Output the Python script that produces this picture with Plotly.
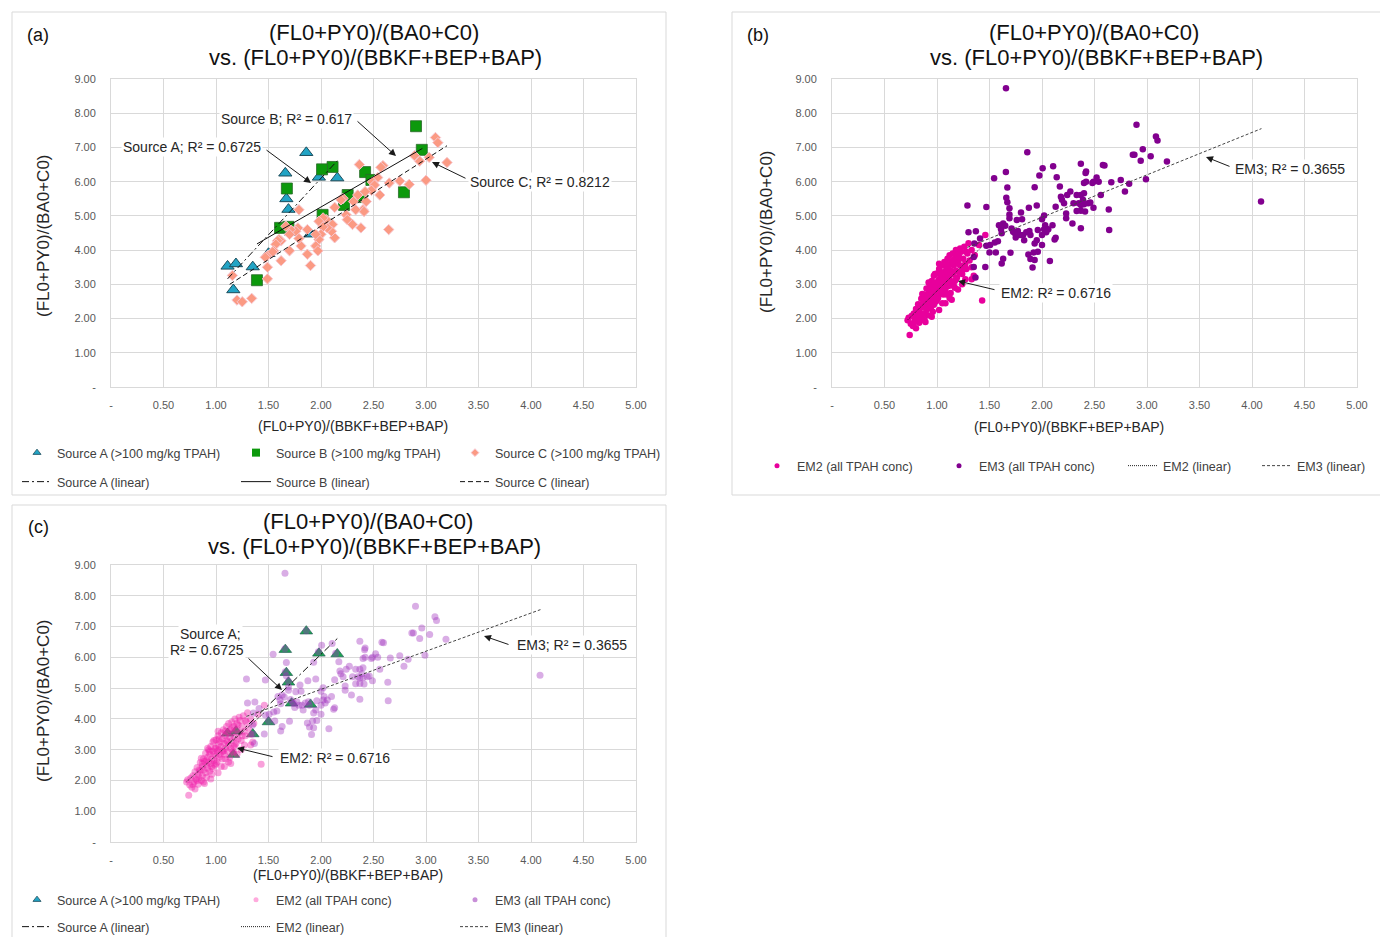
import plotly.graph_objects as go

W, H = 1380, 937
FONT = "Liberation Sans, Arial, Helvetica, sans-serif"

# ---------------- tick labels ----------------
x_tick_vals = [0, 0.5, 1.0, 1.5, 2.0, 2.5, 3.0, 3.5, 4.0, 4.5, 5.0]
x_tick_text = ["-", "0.50", "1.00", "1.50", "2.00", "2.50", "3.00", "3.50", "4.00", "4.50", "5.00"]
y_tick_vals = [0, 1, 2, 3, 4, 5, 6, 7, 8, 9]
y_tick_text = ["-", "1.00", "2.00", "3.00", "4.00", "5.00", "6.00", "7.00", "8.00", "9.00"]

# ---------------- data ----------------
src_a_x = [1.11, 1.19, 1.35, 1.165, 1.86, 1.66, 1.98, 2.155, 1.67, 1.69, 1.72, 1.90, 1.50]
src_a_y = [3.53, 3.60, 3.51, 2.84, 6.85, 6.25, 6.13, 6.11, 5.50, 5.19, 4.51, 4.47, 3.90]

src_b_x = [2.905, 2.96, 2.11, 2.01, 2.42, 2.48, 1.675, 2.254, 2.22, 2.39, 2.79, 2.015, 1.61, 1.69, 2.05, 1.39]
src_b_y = [7.62, 6.93, 6.43, 6.36, 6.28, 6.05, 5.80, 5.61, 5.32, 5.55, 5.69, 5.03, 4.65, 4.68, 4.75, 3.12]

src_c_x = [3.09, 3.113, 3.20, 3.00, 2.94, 2.89, 3.03, 2.84, 2.75, 2.65,
           2.645, 2.59, 2.57, 2.56, 2.54, 2.49, 2.51, 2.48, 2.42, 2.365,
           2.35, 2.43, 2.40, 2.41, 2.33, 2.31, 2.24, 2.25, 2.30, 2.38,
           2.21, 2.19, 2.13, 2.11, 2.13, 2.10, 2.06, 2.05, 2.02, 1.98,
           2.02, 2.00, 1.98, 1.95, 1.95, 1.97, 1.90, 1.87, 1.87, 1.81,
           1.79, 1.78, 1.76, 1.71, 1.70, 1.70, 1.665, 1.62, 1.60, 1.585,
           1.57, 1.55, 1.49, 1.47, 1.49, 1.62, 1.54, 1.49, 1.156, 1.20,
           1.25, 1.34, 1.79]
src_c_y = [7.29, 7.14, 6.56, 6.04, 6.60, 6.76, 6.71, 5.92, 6.02, 5.96,
           4.60, 6.47, 6.42, 5.61, 6.12, 5.99, 5.90, 5.75, 5.71, 6.50,
           5.61, 5.42, 5.18, 5.13, 5.18, 5.42, 5.03, 4.89, 4.75, 4.65,
           5.51, 5.47, 5.25, 4.75, 4.36, 4.55, 4.65, 4.89, 4.94, 4.84,
           4.68, 4.46, 4.31, 4.46, 4.12, 3.98, 3.55, 4.60, 3.88, 4.12,
           5.18, 4.65, 4.55, 4.60, 4.46, 3.98, 4.70, 4.27, 4.31, 4.27,
           4.17, 3.98, 3.84, 3.79, 3.50, 3.69, 3.95, 3.16, 3.26, 2.54,
           2.49, 2.59, 4.34]

em2_x = [0.72, 0.74, 0.73, 0.75, 0.76, 0.77, 0.78, 0.79, 0.80, 0.80,
         0.81, 0.82, 0.83, 0.83, 0.84, 0.85, 0.85, 0.86, 0.87, 0.87,
         0.88, 0.88, 0.89, 0.90, 0.90, 0.91, 0.91, 0.92, 0.92, 0.93,
         0.93, 0.94, 0.94, 0.95, 0.95, 0.96, 0.96, 0.97, 0.97, 0.98,
         0.98, 0.99, 0.99, 1.00, 1.00, 1.01, 1.01, 1.02, 1.02, 1.03,
         1.03, 1.04, 1.04, 1.05, 1.05, 1.06, 1.06, 1.07, 1.07, 1.08,
         1.08, 1.09, 1.09, 1.10, 1.10, 1.11, 1.11, 1.12, 1.12, 1.13,
         1.13, 1.14, 1.14, 1.15, 1.15, 1.16, 1.17, 1.17, 1.18, 1.18,
         1.19, 1.20, 1.20, 1.21, 1.22, 1.22, 1.23, 1.24, 1.25, 1.26,
         1.27, 1.28, 1.29, 1.30, 1.31, 1.33, 1.33, 1.35, 1.36, 1.43,
         1.46, 1.40, 1.05, 0.96, 1.12, 1.17, 1.24, 0.86, 0.89, 1.02,
         0.92, 0.98, 1.02, 1.08, 1.14, 1.20, 1.27, 1.33, 0.88, 0.95,
         0.84, 0.87, 0.91, 0.94, 0.97, 1.00, 1.00, 1.03, 1.06, 1.09,
         1.11, 1.15, 1.18, 1.21, 1.25, 1.28, 0.78, 0.82, 1.09, 1.16]
em2_y = [1.95, 1.52, 2.02, 1.85, 2.08, 1.78, 2.15, 1.95, 2.28, 1.72,
         2.05, 2.42, 2.20, 1.88, 2.10, 2.58, 2.32, 2.00, 2.45, 2.15,
         2.70, 2.35, 2.62, 2.25, 2.88, 2.50, 2.10, 2.75, 2.40, 3.00,
         2.60, 2.30, 2.85, 2.55, 3.10, 2.70, 2.45, 2.95, 3.25, 2.65,
         2.85, 3.05, 2.50, 2.80, 3.32, 2.95, 2.60, 3.15, 3.45, 2.75,
         3.00, 3.25, 2.85, 3.55, 3.10, 2.70, 3.35, 2.95, 3.65, 3.20,
         2.85, 3.45, 3.05, 3.75, 3.30, 2.95, 3.55, 3.15, 3.85, 3.40,
         2.75, 3.65, 3.05, 3.90, 3.30, 3.55, 3.10, 3.75, 3.40, 4.00,
         3.20, 3.65, 3.85, 3.35, 4.05, 3.55, 3.95, 3.30, 3.75, 4.10,
         3.60, 3.45, 3.90, 4.20, 3.70, 3.50, 4.00, 3.25, 3.85, 2.53,
         4.44, 4.15, 2.45, 2.20, 2.60, 2.90, 3.00, 2.72, 1.90, 3.60,
         3.05, 3.30, 2.25, 2.45, 2.55, 2.85, 3.15, 3.15, 1.95, 2.05,
         2.35, 2.55, 2.65, 2.95, 2.40, 2.55, 3.05, 3.35, 2.95, 3.60,
         3.25, 3.70, 3.15, 3.80, 3.45, 3.95, 1.88, 2.00, 2.70, 2.95]

em3_x = [1.86, 1.656, 1.544, 2.006, 2.106, 1.975, 2.14, 1.67, 1.93, 2.17,
         1.66, 1.67, 1.29, 1.47, 1.69, 1.69, 1.69, 1.875, 1.95, 1.80,
         1.76, 1.81, 1.63, 1.65, 1.61, 1.71, 1.725, 1.77, 1.79, 1.75,
         1.82, 1.83, 1.88, 1.89, 1.96, 1.95, 1.93, 2.00, 2.03, 2.02,
         2.04, 2.06, 2.00, 2.00, 2.10, 2.12, 2.13, 2.02, 1.59, 1.616,
         1.58, 1.55, 1.506, 1.50, 1.56, 1.63, 1.616, 1.70, 1.87, 1.89,
         1.92, 1.96, 1.93, 1.91, 2.075, 1.356, 1.35, 1.47, 1.46, 1.35,
         2.18, 2.19, 2.24, 2.21, 2.27, 2.30, 2.33, 2.35, 2.33, 2.23,
         2.23, 2.29, 2.13, 2.90, 3.085, 3.10, 2.96, 2.88, 2.865, 2.94,
         3.035, 3.19, 2.99, 2.83, 2.75, 2.66, 2.79, 2.56, 2.636, 2.64,
         2.58, 2.595, 2.42, 2.415, 2.37, 2.42, 2.40, 2.48, 2.49, 2.54,
         2.52, 2.40, 2.37, 2.39, 2.44, 2.37, 2.40, 2.46, 2.41, 2.49,
         2.37, 2.37, 4.086, 1.657, 1.30, 1.37, 1.41, 1.366, 1.74, 1.85]
em3_y = [6.86, 6.28, 6.10, 6.39, 6.45, 6.18, 6.13, 5.83, 5.84, 5.86,
         5.53, 5.40, 5.30, 5.26, 5.22, 5.04, 4.93, 5.24, 5.30, 5.10,
         4.88, 4.90, 4.78, 4.71, 4.61, 4.63, 4.54, 4.56, 4.44, 4.37,
         4.44, 4.29, 4.56, 4.44, 4.59, 4.29, 4.19, 4.90, 4.73, 4.61,
         4.52, 4.61, 4.44, 4.15, 4.73, 4.31, 4.36, 5.01, 4.73, 4.49,
         4.26, 4.22, 4.15, 3.93, 3.93, 3.75, 3.61, 3.92, 3.87, 3.74,
         3.93, 3.95, 3.71, 3.49, 3.68, 4.19, 3.80, 4.13, 3.51, 3.51,
         5.56, 5.47, 5.61, 5.37, 5.71, 5.37, 5.61, 5.37, 5.14, 5.07,
         4.93, 4.78, 5.27, 7.66, 7.32, 7.20, 6.95, 6.79, 6.79, 6.61,
         6.74, 6.59, 6.07, 5.94, 6.05, 5.98, 5.71, 5.61, 5.19, 4.59,
         6.49, 6.47, 6.30, 6.25, 6.52, 6.00, 5.96, 5.96, 6.00, 6.00,
         6.12, 5.66, 5.61, 5.47, 5.37, 5.32, 5.34, 5.39, 5.13, 5.24,
         5.15, 4.64, 5.42, 8.73, 4.52, 4.55, 4.34, 3.20, 4.50, 4.52]

# linear trend lines (end points)
trend_a_x = [1.11, 2.155]
trend_a_y = [3.16, 6.61]
trend_b_x = [1.39, 2.965]
trend_b_y = [4.18, 6.97]
trend_c_x = [1.13, 3.20]
trend_c_y = [3.00, 7.05]
trend_em2_x = [0.72, 1.46]
trend_em2_y = [1.96, 4.20]
trend_em3_x = [1.29, 4.09]
trend_em3_y = [4.08, 7.55]


def px(x):
    return x / W


def py(y):
    return 1 - y / H


fig = go.Figure()


def markers(x, y, xa, ya, marker):
    fig.add_trace(go.Scatter(x=x, y=y, mode="markers", xaxis=xa, yaxis=ya,
                             marker=marker, showlegend=False, hoverinfo="skip"))


def proxy(name, legend, marker, lw=None):
    fig.add_trace(go.Scatter(x=[None], y=[None], mode="markers", name=name,
                             legend=legend, marker=marker, xaxis="x", yaxis="y",
                             hoverinfo="skip", legendwidth=lw))


def trend(x, y, xa, ya, name, legend, dash, color="#111111", lw=None):
    fig.add_trace(go.Scatter(x=x, y=y, mode="lines", xaxis=xa, yaxis=ya, name=name,
                             legend=legend, line=dict(color=color, width=1, dash=dash),
                             hoverinfo="skip", legendwidth=lw))


DASH_A = "7px,3px,2px,3px"
DASH_B = "solid"
DASH_C = "5px,3px"
DASH_EM2 = "1px,1px"
DASH_EM3 = "3px,2px"

mk_a = dict(symbol="triangle-up", size=11.5, color="#22a4c5", line=dict(color="#1d4d5c", width=1))
mk_b = dict(symbol="square", size=11, color="#0c990c", line=dict(color="#2a6a2a", width=0.8))
mk_c = dict(symbol="diamond", size=8, color="#fb9a83", line=dict(color="#f7c6d0", width=1))

# ---- panel (a) ----
markers(src_a_x, src_a_y, "x", "y", mk_a)
markers(src_b_x, src_b_y, "x", "y", mk_b)
markers(src_c_x, src_c_y, "x", "y", mk_c)
proxy("Source A (>100 mg/kg TPAH)", "legend", dict(symbol="triangle-up", size=7, color="#22a4c5", line=dict(color="#1d4d5c", width=0.8)))
proxy("Source B (>100 mg/kg TPAH)", "legend", dict(symbol="square", size=8, color="#0c990c"))
proxy("Source C (>100 mg/kg TPAH)", "legend", dict(symbol="diamond", size=6, color="#fb9a83", line=dict(color="#f7c6d0", width=1)))
trend(trend_a_x, trend_a_y, "x", "y", "Source A (linear)", "legend2", DASH_A)
trend(trend_b_x, trend_b_y, "x", "y", "Source B (linear)", "legend2", DASH_B)
trend(trend_c_x, trend_c_y, "x", "y", "Source C (linear)", "legend2", DASH_C)

# ---- panel (b) ----
markers(em2_x, em2_y, "x2", "y2", dict(symbol="circle", size=6.5, color="#e8009c"))
markers(em3_x, em3_y, "x2", "y2", dict(symbol="circle", size=6.5, color="#82008f"))
proxy("EM2 (all TPAH conc)", "legend3", dict(symbol="circle", size=5, color="#e8009c"), 137)
proxy("EM3 (all TPAH conc)", "legend3", dict(symbol="circle", size=5, color="#82008f"), 139)
trend(trend_em2_x, trend_em2_y, "x2", "y2", "EM2 (linear)", "legend3", DASH_EM2, "#222222", 89)
trend(trend_em3_x, trend_em3_y, "x2", "y2", "EM3 (linear)", "legend3", DASH_EM3, "#444444", 80)

# ---- panel (c) ----
markers(src_a_x, src_a_y, "x3", "y3", dict(symbol="triangle-up", size=11, color="#19a84f", line=dict(color="#2a5a5a", width=0.7)))
markers(em2_x, em2_y, "x3", "y3", dict(symbol="circle", size=7, color="rgba(240,30,170,0.42)"))
markers(em3_x, em3_y, "x3", "y3", dict(symbol="circle", size=7, color="rgba(160,50,190,0.40)"))
proxy("Source A (>100 mg/kg TPAH)", "legend4", dict(symbol="triangle-up", size=7, color="#22a4c5", line=dict(color="#1d4d5c", width=0.8)))
proxy("EM2 (all TPAH conc)", "legend4", dict(symbol="circle", size=5, color="#ffaadd"))
proxy("EM3 (all TPAH conc)", "legend4", dict(symbol="circle", size=5, color="#c88fd8"))
trend(trend_a_x, trend_a_y, "x3", "y3", "Source A (linear)", "legend5", DASH_A)
trend(trend_em2_x, trend_em2_y, "x3", "y3", "EM2 (linear)", "legend5", DASH_EM2, "#222222")
trend(trend_em3_x, trend_em3_y, "x3", "y3", "EM3 (linear)", "legend5", DASH_EM3, "#444444")

# ---------------- axes ----------------
ax_common = dict(range=[0, 5], tickmode="array", tickvals=x_tick_vals, ticktext=x_tick_text,
                 showgrid=True, gridcolor="#d9d9d9", gridwidth=1, zeroline=False,
                 showline=True, linecolor="#d9d9d9", linewidth=1, mirror=True, ticks="",
                 tickfont=dict(family=FONT, size=11, color="#595959"), ticklabelstandoff=8,
                 fixedrange=True)
ay_common = dict(range=[0, 9], tickmode="array", tickvals=y_tick_vals, ticktext=y_tick_text,
                 showgrid=True, gridcolor="#d9d9d9", gridwidth=1, zeroline=False,
                 showline=True, linecolor="#d9d9d9", linewidth=1, mirror=True, ticks="",
                 tickfont=dict(family=FONT, size=11, color="#595959"), ticklabelstandoff=12,
                 fixedrange=True)

dom_xa = [px(111), px(636)]
dom_xb = [px(832), px(1357)]
dom_ya = [py(387), py(79)]
dom_yc = [py(842), py(565)]

legend_common = dict(orientation="h", xanchor="left", yanchor="middle", xref="paper", yref="paper",
                     bgcolor="rgba(0,0,0,0)", font=dict(family=FONT, size=12.5, color="#404040"),
                     itemwidth=30, traceorder="normal", itemclick=False, itemdoubleclick=False)

fig.update_layout(
    width=W, height=H,
    margin=dict(l=0, r=0, t=0, b=0, autoexpand=False),
    paper_bgcolor="white", plot_bgcolor="white",
    font=dict(family=FONT, color="#262626"),
    xaxis=dict(ax_common, domain=dom_xa, anchor="y"),
    yaxis=dict(ay_common, domain=dom_ya, anchor="x"),
    xaxis2=dict(ax_common, domain=dom_xb, anchor="y2"),
    yaxis2=dict(ay_common, domain=dom_ya, anchor="x2"),
    xaxis3=dict(ax_common, domain=dom_xa, anchor="y3"),
    yaxis3=dict(ay_common, domain=dom_yc, anchor="x3"),
    legend=dict(legend_common, x=px(17), y=py(453), entrywidth=174, entrywidthmode="pixels"),
    legend2=dict(legend_common, x=px(17), y=py(482), entrywidth=174, entrywidthmode="pixels"),
    legend3=dict(legend_common, x=px(757), y=py(466), entrywidthmode="pixels"),
    legend4=dict(legend_common, x=px(17), y=py(900), entrywidth=174, entrywidthmode="pixels"),
    legend5=dict(legend_common, x=px(17), y=py(927), entrywidth=174, entrywidthmode="pixels"),
)

# outer chart boxes
for x0, y0, x1, y1 in [(12, 12, 666, 495), (732, 12, 1390, 495), (12, 505, 666, 950)]:
    fig.add_shape(type="rect", xref="paper", yref="paper", x0=px(x0), y0=py(y0), x1=px(x1), y1=py(y1),
                  line=dict(color="#d9d9d9", width=1), fillcolor="rgba(0,0,0,0)", layer="below")

ann = []


def text(t, x, y, size, color="#1a1a1a", angle=0, bg=None):
    d = dict(text=t, x=px(x), y=py(y), xref="paper", yref="paper", showarrow=False,
             font=dict(family=FONT, size=size, color=color), xanchor="center", yanchor="middle",
             textangle=angle)
    if bg:
        d.update(bgcolor=bg, borderpad=1)
    ann.append(d)


def arrow(hx, hy, tx, ty):
    ann.append(dict(text="", x=px(hx), y=py(hy), xref="paper", yref="paper", showarrow=True,
                    ax=tx - hx, ay=ty - hy, arrowhead=2, arrowsize=1.4, arrowwidth=1,
                    arrowcolor="#1a1a1a", standoff=0, startstandoff=0))


# titles
for (cx1, cy1, cx2, cy2) in [(374, 32, 375, 57), (1094, 32, 1096, 57), (368, 521, 374, 546)]:
    text("(FL0+PY0)/(BA0+C0)", cx1, cy1, 22, "#111111")
    text("vs. (FL0+PY0)/(BBKF+BEP+BAP)", cx2, cy2, 22, "#111111")
text("(a)", 38, 35, 18, "#111111")
text("(b)", 758, 35, 18, "#111111")
text("(c)", 38, 527, 18, "#111111")

# axis titles
text("(FL0+PY0)/(BBKF+BEP+BAP)", 353, 426, 14, "#262626")
text("(FL0+PY0)/(BBKF+BEP+BAP)", 1069, 427, 14, "#262626")
text("(FL0+PY0)/(BBKF+BEP+BAP)", 348, 875, 14, "#262626")
text("(FL0+PY0)/(BA0+C0)", 43, 236, 17, "#262626", -90)
text("(FL0+PY0)/(BA0+C0)", 766, 232, 17, "#262626", -90)
text("(FL0+PY0)/(BA0+C0)", 43, 701, 17, "#262626", -90)

# trend labels (a)
arrow(396, 156, 356, 120)
arrow(311, 183, 265, 149)
arrow(432, 162, 467, 179)
text("Source B; R² = 0.617", 286, 119, 14, "#262626", bg="white")
text("Source A; R² = 0.6725", 192, 147, 14, "#262626", bg="white")
text("Source C; R² = 0.8212", 540, 182, 14, "#262626", bg="white")

# trend labels (b)
arrow(958, 281, 996, 290)
arrow(1206, 157, 1231, 167)
text("EM2: R² = 0.6716", 1056, 293, 14, "#262626", bg="white")
text("EM3; R² = 0.3655", 1290, 169, 14, "#262626", bg="white")

# trend labels (c)
arrow(282, 690, 247, 657)
arrow(237, 748, 274, 757)
arrow(484, 636, 510, 645)
text("Source A;", 210, 634, 14, "#262626", bg="white")
text("R² = 0.6725", 207, 650, 14, "#262626", bg="white")
text("EM2: R² = 0.6716", 335, 758, 14, "#262626", bg="white")
text("EM3; R² = 0.3655", 572, 645, 14, "#262626", bg="white")

fig.update_layout(annotations=ann)

fig.write_html(
    "out.html",
    config={"displayModeBar": False},
    post_script="document.body.style.margin='0px';document.body.style.overflow='hidden';",
)
